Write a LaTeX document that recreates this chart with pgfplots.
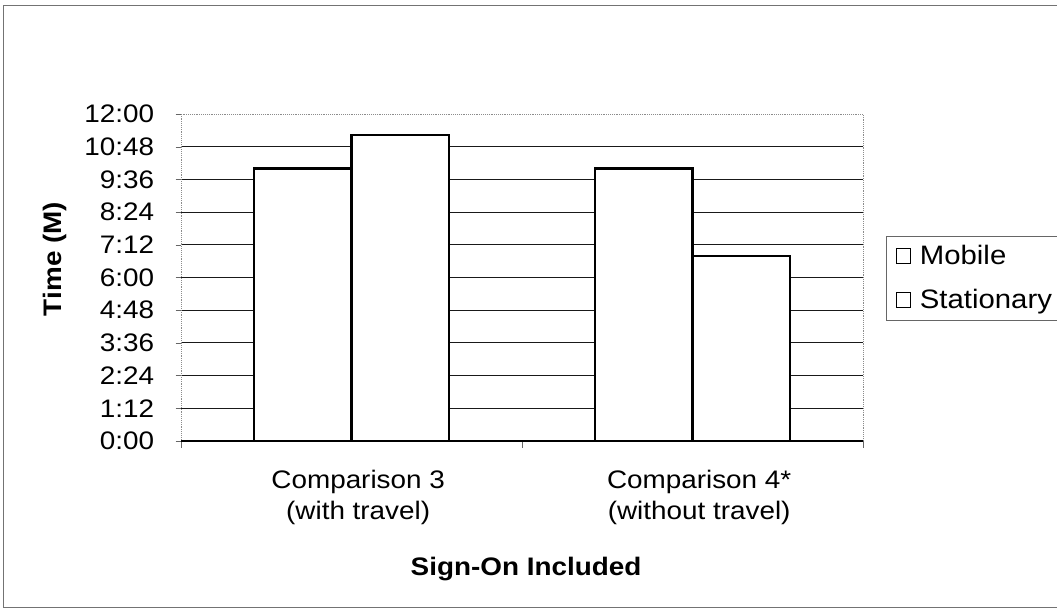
\documentclass[border=0pt]{standalone}
\usepackage{fontspec}
\setmainfont{Liberation Sans}[FakeStretch=1.1]
\usepackage{pgfplots}
\pgfplotsset{compat=1.18}
\newcommand\fs{\fontsize{19}{23}\selectfont}
\begin{document}
\begin{tikzpicture}
\useasboundingbox (0,0) rectangle (792.75pt,458.25pt);
\draw[black!55, line width=0.6pt] (2.25pt,3pt) rectangle (796pt,454.5pt);
\begin{axis}[
  at={(135.75pt,127.5pt)}, anchor=south west,
  scale only axis, width=511.5pt, height=245.25pt,
  xmin=-0.5, xmax=1.5, ymin=0, ymax=12,
  ybar=0pt, bar width=0.285,
  xtick pos=bottom, ytick pos=left,
  ytick={0,1.2,2.4,3.6,4.8,6,7.2,8.4,9.6,10.8},
  yticklabels={0:00,1:12,2:24,3:36,4:48,6:00,7:12,8:24,9:36,10:48},
  extra y ticks={12}, extra y tick labels={12:00},
  extra y tick style={grid=none},
  ymajorgrids,
  major grid style={black!90, line width=0.7pt},
  tick align=outside, major tick length=4pt,
  ytick style={black!60},
  yticklabel style={font=\fs, inner sep=0pt, xshift=-16pt},
  xtick={0,1},
  xticklabels={{Comparison 3\\(with travel)},{Comparison 4*\\(without travel)}},
  xticklabel style={font=\fs, align=center, inner sep=0pt, anchor=north, yshift=-18pt, xshift=5pt},
  x tick style={draw=none},
  extra x ticks={-0.5,0.5,1.5}, extra x tick labels={},
  extra x tick style={x tick style={draw=black!60}, major tick length=5pt},
  axis line style={black!45, densely dotted},
  legend style={at={(1.0337,0.628)}, anchor=north west, draw=black!60, fill=white,
     font=\fontsize{20}{24}\selectfont, row sep=13pt, inner xsep=7pt, inner ysep=5pt},
  legend cell align=left,
]
\addplot[fill=white, draw=black, line width=1.7pt,
  legend image code/.code={\draw[black, line width=0.8pt, fill=white] (0pt,-5.5pt) rectangle (11pt,5.5pt); \path (15pt,0pt);}]
  coordinates {(0,10.0) (1,10.0)};
\addlegendentry{Mobile}
\addplot[fill=white, draw=black, line width=1.7pt,
  legend image code/.code={\draw[black, line width=0.8pt, fill=white] (0pt,-5.5pt) rectangle (11pt,5.5pt); \path (15pt,0pt);}]
  coordinates {(0,11.23) (1,6.79)};
\addlegendentry{Stationary}
\draw[black, line width=1pt] (axis cs:-0.5,0) -- (axis cs:1.5,0);
\end{axis}
\node[rotate=90, font=\bfseries\fs] at (41.25pt,264pt) {Time (M)};
\node[font=\bfseries\fs] at (394.5pt,31.5pt) {Sign-On Included};
\end{tikzpicture}
\end{document}
